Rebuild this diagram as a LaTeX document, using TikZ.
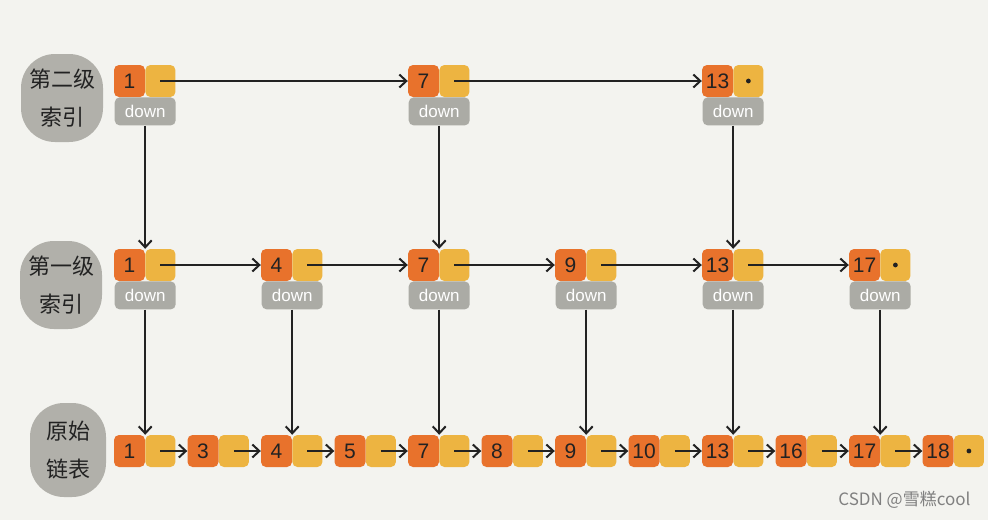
\documentclass[tikz,border=0pt]{standalone}
\usepackage{fontspec}
\setmainfont{Liberation Sans}
\newfontfamily\cjk{Noto Sans CJK SC}
\usetikzlibrary{arrows.meta, positioning}
\definecolor{keyorange}{HTML}{E8722C}
\definecolor{ptryellow}{HTML}{EDB441}
\definecolor{downgray}{HTML}{ABABA5}
\definecolor{labelgray}{HTML}{B1B0AA}
\definecolor{paper}{HTML}{F3F3EF}
\definecolor{inkblack}{HTML}{222222}

\tikzset{
    keybox/.style={fill=keyorange, rounded corners=5pt, minimum width=31pt, minimum height=32pt, inner sep=0pt, text=inkblack, font=\fontsize{21}{21}\selectfont},
    ptrbox/.style={fill=ptryellow, rounded corners=5pt, minimum width=30pt, minimum height=32pt, inner sep=0pt},
    downbox/.style={fill=downgray, rounded corners=5pt, minimum width=61pt, minimum height=28pt, inner sep=0pt, text=white, font=\fontsize{17}{17}\selectfont},
    levelbox/.style={fill=labelgray, rounded corners=34pt, minimum width=82pt, minimum height=88pt, inner sep=0pt, align=center, text=inkblack, font=\cjk\fontsize{22}{38}\selectfont},
    link/.style={draw=inkblack, line width=2pt, -{Straight Barb[length=7pt, width=13pt, line width=2pt]}},
}

\begin{document}
\begin{tikzpicture}[x=1pt, y=-1pt]
\fill[paper] (0,0) rectangle (988,520);
\useasboundingbox (0,0) rectangle (988,520);

% level labels
\node[levelbox] (lvltwo) at (62,98) {第二级\\索引};
\node[levelbox] (lvlone) at (61,285) {第一级\\索引};
\node[levelbox, minimum width=76pt, minimum height=94pt] (lvlraw) at (68,450) {原始\\链表};

% original list
\foreach \v [count=\k from 0] in {1,3,4,5,7,8,9,10,13,16,17,18} {
    \node[keybox] (raw\v) at ({145+73.5*\k-15.5},451) {\v};
    \node[ptrbox, right=0pt of raw\v] (rawp\v) {};
}
% first level index
\foreach \v [count=\k from 0] in {1,4,7,9,13,17} {
    \node[keybox] (one\v) at ({145+147*\k-15.5},265) {\v};
    \node[ptrbox, right=0pt of one\v] (onep\v) {};
    \node[downbox, below=0pt of one\v.south east] (oned\v) {down};
}
% second level index
\foreach \v [count=\k from 0] in {1,7,13} {
    \node[keybox] (two\v) at ({145+294*\k-15.5},81) {\v};
    \node[ptrbox, right=0pt of two\v] (twop\v) {};
    \node[downbox, below=0pt of two\v.south east] (twod\v) {down};
}

% null pointers
\fill[inkblack] (twop13) circle (2.4pt);
\fill[inkblack] (onep17) circle (2.4pt);
\fill[inkblack] (rawp18) circle (2.4pt);

% next links
\foreach \a/\b in {1/3,3/4,4/5,5/7,7/8,8/9,9/10,10/13,13/16,16/17,17/18}
    \draw[link] (rawp\a.center) -- (raw\b.west);
\foreach \a/\b in {1/4,4/7,7/9,9/13,13/17}
    \draw[link] (onep\a.center) -- (one\b.west);
\foreach \a/\b in {1/7,7/13}
    \draw[link] (twop\a.center) -- (two\b.west);

% down links
\foreach \v in {1,7,13}
    \draw[link] (twod\v.south) -- (one\v.north east);
\foreach \v in {1,4,7,9,13,17}
    \draw[link] (oned\v.south) -- (raw\v.north east);

\node[anchor=east, text=gray, font=\cjk\fontsize{17}{17}\selectfont] (mark) at (974,500) {CSDN @雪糕cool};
\end{tikzpicture}
\end{document}
